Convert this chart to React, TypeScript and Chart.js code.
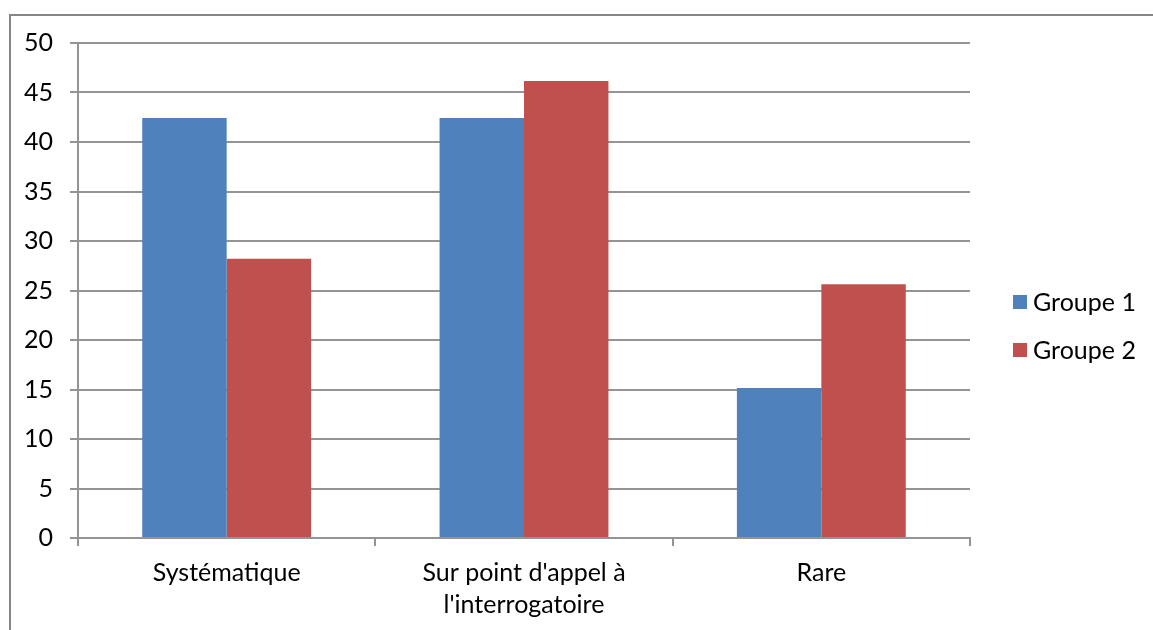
import React, { useEffect, useRef } from "react";
import { Chart, registerables } from "chart.js";

Chart.register(...registerables);

const categories: (string | string[])[] = [
  "Systématique",
  ["Sur point d'appel à", "l'interrogatoire"],
  "Rare",
];
const seriesNames = ["Groupe 1", "Groupe 2"];
const groupe1 = [42.42, 42.42, 15.15];
const groupe2 = [28.21, 46.15, 25.64];
const seriesColors = ["#4F81BD", "#C0504D"];
const yTicks = [0, 5, 10, 15, 20, 25, 30, 35, 40, 45, 50];

const FONT = "Lato, Carlito, Calibri, sans-serif";
const GRID = "#949494";
const FRAME = "#868686";

// Legend drawn to the right of the plot, one square swatch per dataset
const sideLegend = {
  id: "sideLegend",
  afterDraw(chart: Chart) {
    const ctx = chart.ctx;
    const x = 1013;
    const y0 = 302;
    const gap = 48;
    const box = 14;
    ctx.save();
    ctx.font = `25px ${FONT}`;
    ctx.textBaseline = "middle";
    ctx.textAlign = "left";
    chart.data.datasets.forEach((ds, i) => {
      const cy = y0 + i * gap;
      ctx.fillStyle = ds.backgroundColor as string;
      ctx.fillRect(x, cy - box / 2, box, box);
      ctx.fillStyle = "#000";
      ctx.fillText(String(ds.label), x + 20, cy + 1);
    });
    ctx.restore();
  },
};

export default function App() {
  const ref = useRef<HTMLCanvasElement | null>(null);

  useEffect(() => {
    if (!ref.current) return;
    const chart = new Chart(ref.current, {
      type: "bar",
      data: {
        labels: categories,
        datasets: [
          {
            label: seriesNames[0],
            data: groupe1,
            backgroundColor: seriesColors[0],
            categoryPercentage: 0.568,
            barPercentage: 1,
          },
          {
            label: seriesNames[1],
            data: groupe2,
            backgroundColor: seriesColors[1],
            categoryPercentage: 0.568,
            barPercentage: 1,
          },
        ],
      },
      options: {
        responsive: false,
        animation: false,
        devicePixelRatio: 1,
        layout: { padding: { top: 43, right: 183, bottom: 0, left: 0 } },
        plugins: {
          legend: { display: false },
          tooltip: { enabled: false },
        },
        scales: {
          x: {
            offset: true,
            grid: {
              offset: true,
              drawOnChartArea: false,
              drawTicks: true,
              tickLength: 8,
              color: GRID,
              lineWidth: 2,
            },
            border: { color: GRID, width: 2 },
            ticks: {
              color: "#000",
              padding: 11,
              maxRotation: 0,
              autoSkip: false,
              font: { family: FONT, size: 25, lineHeight: "32px" },
            },
            afterFit(scale: any) {
              scale.height = 92;
            },
          },
          y: {
            min: 0,
            max: 50,
            afterBuildTicks(scale: any) {
              scale.ticks = yTicks.map((v) => ({ value: v }));
            },
            grid: {
              color: GRID,
              lineWidth: 2,
              drawTicks: true,
              tickLength: 8,
            },
            border: { color: GRID, width: 2 },
            ticks: {
              color: "#000",
              padding: 17,
              font: { family: FONT, size: 25 },
            },
            afterFit(scale: any) {
              scale.width = 78;
            },
          },
        },
      },
      plugins: [sideLegend],
    });
    return () => chart.destroy();
  }, []);

  return (
    <div
      style={{
        position: "fixed",
        left: 0,
        top: 0,
        width: 1153,
        height: 630,
        background: "#fff",
        overflow: "hidden",
      }}
    >
      <div
        style={{
          position: "absolute",
          left: 9,
          top: 14,
          width: 1153,
          height: 630,
          borderLeft: `2px solid ${FRAME}`,
          borderTop: `2px solid ${FRAME}`,
        }}
      />
      <canvas
        ref={ref}
        width={1153}
        height={630}
        style={{ position: "absolute", left: 0, top: 0, width: 1153, height: 630 }}
      />
    </div>
  );
}
